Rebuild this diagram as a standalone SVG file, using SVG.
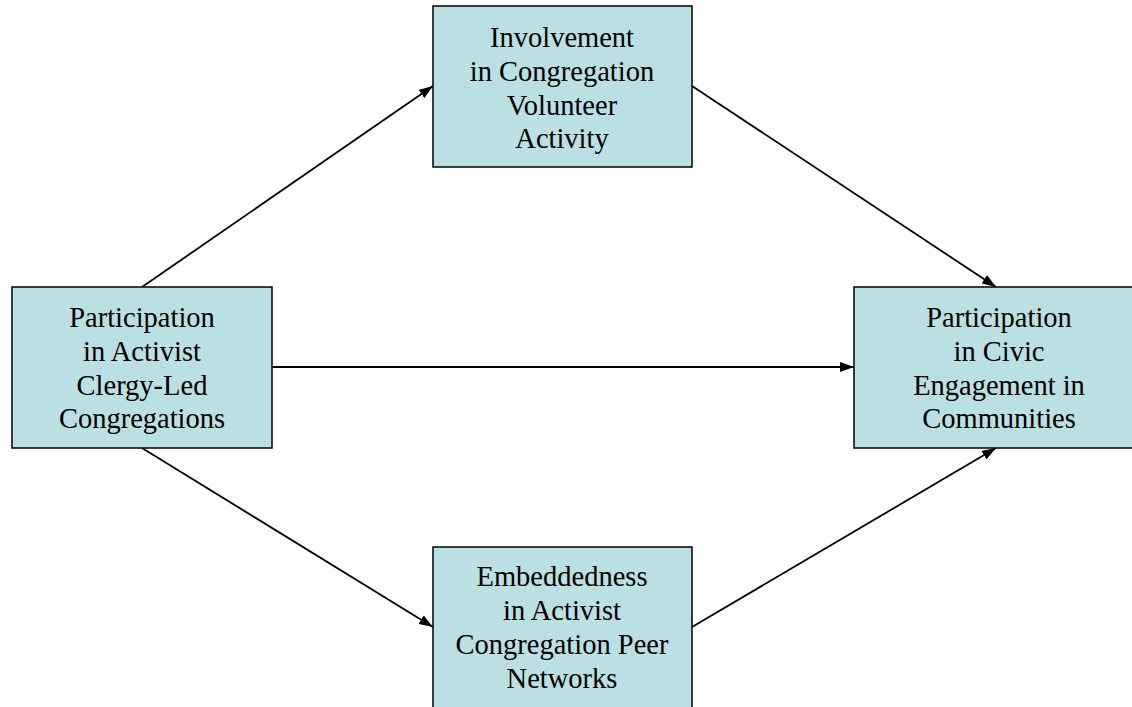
<svg xmlns="http://www.w3.org/2000/svg" width="1132" height="707" viewBox="0 0 1132 707">
  <style>
    .box { fill: #BAE0E3; stroke: #000; stroke-width: 1.5; }
    .lbl { font-family: "Liberation Serif", "Times New Roman", serif; font-size: 28.5px; fill: #000; text-anchor: middle; }
    .edge { stroke: #000; stroke-width: 1.8; fill: none; marker-end: url(#head); }
  </style>
  <defs>
    <marker id="head" viewBox="0 0 14 10" refX="14" refY="5" markerWidth="14" markerHeight="10" markerUnits="userSpaceOnUse" orient="auto">
      <path d="M0,0 L14,5 L0,10 Z" fill="#000"/>
    </marker>
  </defs>
  <rect width="1132" height="707" fill="#fff"/>

  <g id="connectors">
    <line class="edge" x1="142" y1="287" x2="433" y2="86"/>
    <line class="edge" x1="692" y1="86" x2="996" y2="287"/>
    <line class="edge" x1="272" y1="367" x2="854" y2="367"/>
    <line class="edge" x1="142" y1="448" x2="433" y2="627"/>
    <line class="edge" x1="692" y1="627" x2="996" y2="448"/>
  </g>

  <g id="node-volunteer">
    <rect class="box" x="433" y="6" width="259" height="161"/>
    <text class="lbl" x="562" y="47">Involvement</text>
    <text class="lbl" x="562" y="81">in Congregation</text>
    <text class="lbl" x="562" y="115">Volunteer</text>
    <text class="lbl" x="562" y="148">Activity</text>
  </g>

  <g id="node-clergy">
    <rect class="box" x="12" y="287" width="260" height="161"/>
    <text class="lbl" x="142" y="327">Participation</text>
    <text class="lbl" x="142" y="361">in Activist</text>
    <text class="lbl" x="142" y="395">Clergy-Led</text>
    <text class="lbl" x="142" y="428">Congregations</text>
  </g>

  <g id="node-civic">
    <rect class="box" x="854" y="287" width="290" height="161"/>
    <text class="lbl" x="999" y="327">Participation</text>
    <text class="lbl" x="999" y="361">in Civic</text>
    <text class="lbl" x="999" y="395">Engagement in</text>
    <text class="lbl" x="999" y="428">Communities</text>
  </g>

  <g id="node-networks">
    <rect class="box" x="433" y="547" width="259" height="175"/>
    <text class="lbl" x="562" y="586">Embeddedness</text>
    <text class="lbl" x="562" y="620">in Activist</text>
    <text class="lbl" x="562" y="654">Congregation Peer</text>
    <text class="lbl" x="562" y="688">Networks</text>
  </g>
</svg>
